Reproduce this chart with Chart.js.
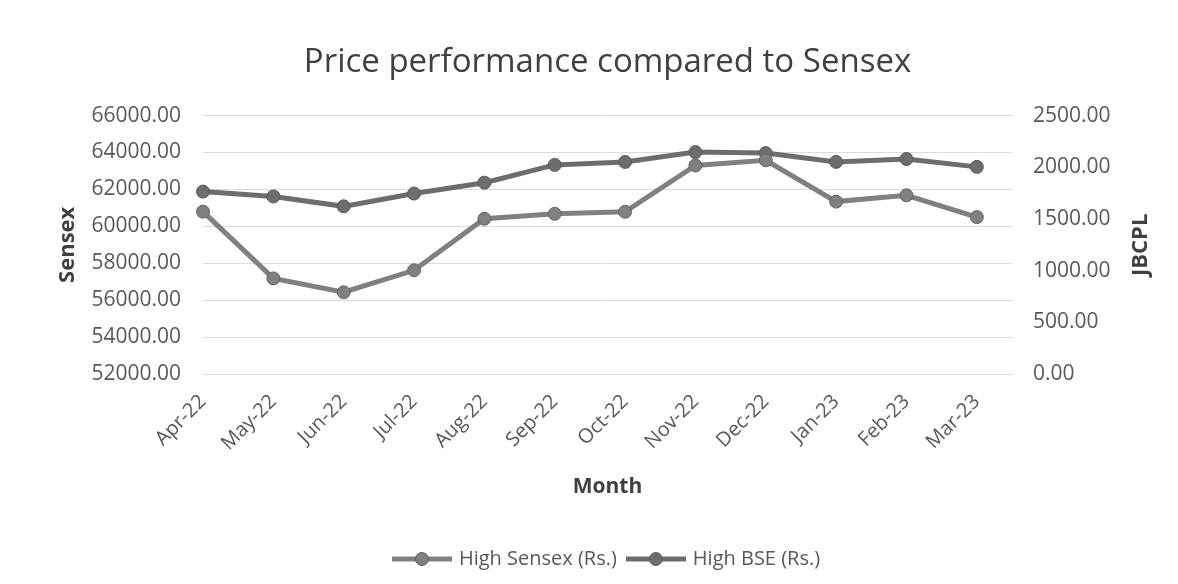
<!DOCTYPE html>
<html>
<head>
<meta charset="utf-8">
<title>Price performance compared to Sensex</title>
<script src="https://cdn.jsdelivr.net/npm/chart.js@4.4.1/dist/chart.umd.min.js"></script>
<style>
  html, body { margin: 0; padding: 0; background: #ffffff; }
  #wrap { width: 1178px; height: 584px; position: relative; }
</style>
</head>
<body>
<div id="wrap"><canvas id="chart"></canvas></div>
<script>
// months on the x axis
const months = ['Apr-22', 'May-22', 'Jun-22', 'Jul-22', 'Aug-22', 'Sep-22',
                'Oct-22', 'Nov-22', 'Dec-22', 'Jan-23', 'Feb-23', 'Mar-23'];

// High Sensex (left axis)
const highSensex = [60800, 57180, 56430, 57620, 60410, 60680, 60790, 63300, 63580, 61340, 61680, 60500];

// High BSE price of JBCPL (right axis)
const highBSE = [1765, 1718, 1622, 1746, 1851, 2023, 2052, 2147, 2137, 2052, 2080, 2004];

// axis ranges
const sensexAxis = [52000, 66000, 2000];
const jbcplAxis = [0, 2500, 500];

const FONT = '"Open Sans", "DejaVu Sans", sans-serif';
const sensexColor = '#808080';
const bseColor = '#6d6d6d';

// little line + dot swatch for the legend, like the excel one
function makeSwatch(color) {
  const c = document.createElement('canvas');
  c.width = 60; c.height = 16;
  const g = c.getContext('2d');
  g.strokeStyle = color;
  g.lineWidth = 5;
  g.beginPath(); g.moveTo(0, 8); g.lineTo(60, 8); g.stroke();
  g.fillStyle = color;
  g.strokeStyle = '#5e5e5e';
  g.lineWidth = 1;
  g.beginPath(); g.arc(30, 8, 6.5, 0, Math.PI * 2); g.fill(); g.stroke();
  return c;
}
const swatches = [makeSwatch(sensexColor), makeSwatch(bseColor)];

// secondary axis title reads bottom to top in the original
const rightTitle = {
  id: 'rightTitle',
  afterDraw(chart) {
    const {ctx, chartArea} = chart;
    const s = chart.scales.y1;
    ctx.save();
    ctx.translate(s.right - 37, (chartArea.top + chartArea.bottom) / 2);
    ctx.rotate(-Math.PI / 2);
    ctx.font = 'bold 22px ' + FONT;
    ctx.fillStyle = '#404040';
    ctx.textAlign = 'center';
    ctx.textBaseline = 'middle';
    ctx.fillText('JBCPL', 0, 0);
    ctx.restore();
  }
};

new Chart(document.getElementById('chart'), {
  type: 'line',
  data: {
    datasets: [
      {
        label: 'High Sensex (Rs.)',
        data: highSensex.map((v, i) => ({x: i, y: v})),
        yAxisID: 'y',
        borderColor: sensexColor,
        backgroundColor: sensexColor,
        borderWidth: 5,
        pointRadius: 6.5,
        pointBackgroundColor: sensexColor,
        pointBorderColor: '#666666',
        pointBorderWidth: 1,
        tension: 0,
        clip: false
      },
      {
        label: 'High BSE (Rs.)',
        data: highBSE.map((v, i) => ({x: i, y: v})),
        yAxisID: 'y1',
        borderColor: bseColor,
        backgroundColor: bseColor,
        borderWidth: 5,
        pointRadius: 6.5,
        pointBackgroundColor: bseColor,
        pointBorderColor: '#5a5a5a',
        pointBorderWidth: 1,
        tension: 0,
        clip: false
      }
    ]
  },
  options: {
    responsive: true,
    maintainAspectRatio: false,
    animation: false,
    layout: { padding: { left: 0, right: 0, top: 0, bottom: 5 } },
    plugins: {
      title: {
        display: true,
        fullSize: false,
        text: 'Price performance compared to Sensex',
        color: '#404040',
        font: { family: FONT, size: 33, weight: 'normal' },
        padding: { top: 43, bottom: 33 }
      },
      legend: {
        position: 'bottom',
        fullSize: false,
        labels: {
          color: '#595959',
          font: { family: FONT, size: 20 },
          usePointStyle: true,
          pointStyleWidth: 54,
          padding: 12,
          generateLabels(chart) {
            const items = Chart.defaults.plugins.legend.labels.generateLabels(chart);
            items.forEach((it, i) => { it.pointStyle = swatches[i]; });
            return items;
          }
        }
      },
      tooltip: { enabled: false }
    },
    scales: {
      x: {
        type: 'linear',
        min: 0,
        max: 11.5,
        afterFit(scale) { scale.height = 163; },
        grid: { display: false, drawTicks: false },
        border: { display: false },
        ticks: {
          stepSize: 1,
          autoSkip: false,
          minRotation: 45,
          maxRotation: 45,
          padding: 16,
          color: '#595959',
          font: { family: FONT, size: 20 },
          callback: (v) => Number.isInteger(v) ? months[v] : ''
        },
        title: {
          display: true,
          text: 'Month',
          color: '#404040',
          font: { family: FONT, size: 21, weight: 'bold' },
          padding: { top: 0, bottom: 37 }
        }
      },
      y: {
        position: 'left',
        min: sensexAxis[0],
        max: sensexAxis[1],
        afterFit(scale) { scale.width = 203; },
        grid: { color: '#dcdcdc', lineWidth: 1, drawTicks: false },
        border: { display: false },
        ticks: {
          stepSize: sensexAxis[2],
          padding: 22,
          color: '#595959',
          font: { family: FONT, size: 21 },
          callback: (v) => v.toFixed(2)
        },
        title: {
          display: true,
          text: 'Sensex',
          color: '#404040',
          font: { family: FONT, size: 22, weight: 'bold' },
          padding: { top: 55, bottom: 0 }
        }
      },
      y1: {
        position: 'right',
        min: jbcplAxis[0],
        max: jbcplAxis[1],
        afterFit(scale) { scale.width = 166; },
        grid: { display: false, drawTicks: false },
        border: { display: false },
        ticks: {
          stepSize: jbcplAxis[2],
          padding: 21,
          color: '#595959',
          font: { family: FONT, size: 21 },
          callback: (v) => v.toFixed(2)
        }
      }
    }
  },
  plugins: [rightTitle]
});
</script>
</body>
</html>
